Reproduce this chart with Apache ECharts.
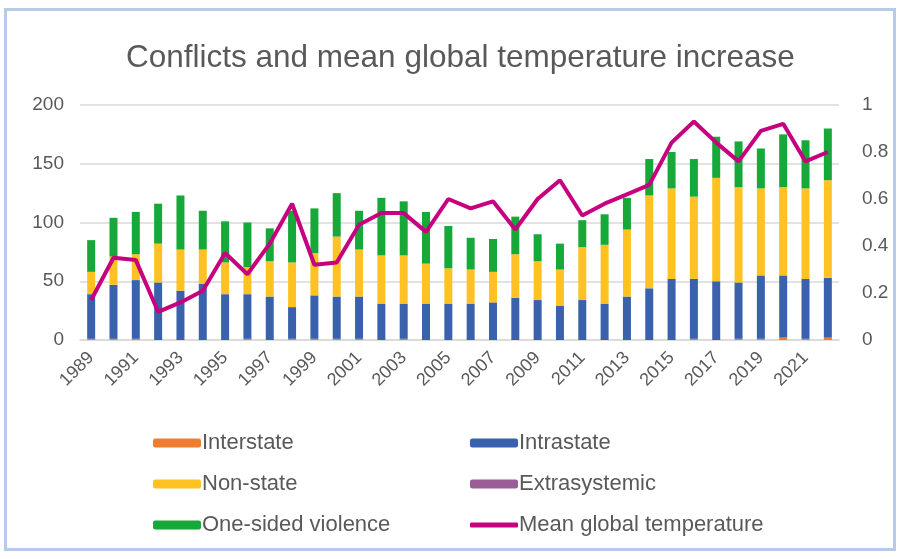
<!DOCTYPE html>
<html>
<head>
<meta charset="utf-8">
<script src="https://cdn.jsdelivr.net/npm/echarts@6/dist/echarts.min.js"></script>
<style>
html,body{margin:0;padding:0;background:#fff;width:897px;height:559px;overflow:hidden;}
#frame{position:absolute;left:4px;top:8px;width:892px;height:543px;border:3px solid #b7cbe9;box-sizing:border-box;}
#chart{position:absolute;left:0;top:0;width:897px;height:559px;}
</style>
</head>
<body>
<div id="frame"></div>
<div id="chart"></div>
<script>
const years = ['1989','1990','1991','1992','1993','1994','1995','1996','1997','1998','1999','2000','2001','2002','2003','2004','2005','2006','2007','2008','2009','2010','2011','2012','2013','2014','2015','2016','2017','2018','2019','2020','2021','2022'];
const interstate = [1,1,1,0,0,0,0,1,0,1,1,1,1,0,1,0,0,0,0,0,0,0,0,0,0,0,0,1,0,1,1,2,1,2];
const intrastate = [38,46,50,49,42,48,39,38,37,27,37,36,36,31,30,31,31,31,32,36,34,29,34,31,37,44,52,51,50,48,54,53,51,51];
const nonState = [19,24,22,33,35,29,27,23,30,38,36,51,40,41,41,34,30,29,26,37,33,31,45,50,57,79,77,70,88,81,74,75,77,83];
const extrasystemic = [0,0,0,0,0,0,0,0,0,0,0,0,0,0,0,0,0,0,0,0,0,0,0,0,0,0,0,0,0,0,0,0,0,0];
const oneSided = [27,33,36,34,46,33,35,38,28,44,38,37,33,49,46,44,36,27,28,32,23,22,23,26,27,31,31,32,35,39,34,45,41,44];
const temperature = [0.17,0.35,0.34,0.12,0.16,0.21,0.37,0.28,0.41,0.58,0.32,0.33,0.49,0.54,0.54,0.46,0.60,0.56,0.59,0.47,0.60,0.68,0.53,0.58,0.62,0.66,0.84,0.93,0.84,0.76,0.89,0.92,0.76,0.80];
const leftTicks = [0,50,100,150,200];
const rightTicks = [0,0.2,0.4,0.6,0.8,1];

const FONT = 'Liberation Sans';
const TXT = '#595959';
const LINE_COLOR = '#c6007e';
const chart = echarts.init(document.getElementById('chart'), null, {renderer:'canvas'});
const barCommon = {type:'bar', stack:'c', barWidth:8, yAxisIndex:0};
const legText = {fontFamily:FONT, fontSize:22, color:TXT, padding:[0,0,0,-4]};
chart.setOption({
  animation:false,
  title:{text:'Conflicts and mean global temperature increase', left:121, top:37,
    textStyle:{fontFamily:FONT, fontSize:31.5, fontWeight:'normal', color:TXT}},
  grid:{left:80, right:58, top:105, bottom:219},
  legend:[
    {orient:'vertical', left:148, top:427, itemGap:19, itemWidth:48, itemHeight:9, textStyle:legText,
     data:['Interstate','Non-state','One-sided violence']},
    {orient:'vertical', left:465, top:427, itemGap:19, itemWidth:48, itemHeight:9, textStyle:legText,
     data:['Intrastate','Extrasystemic']},
    {orient:'vertical', left:465, top:509, itemWidth:48, itemHeight:5, textStyle:legText,
     data:[{name:'Mean global temperature', icon:'roundRect', itemStyle:{color:LINE_COLOR}}]}
  ],
  xAxis:{type:'category', data:years,
    axisLine:{lineStyle:{color:'#d9d9d9', width:1.5}}, axisTick:{show:false},
    axisLabel:{interval:1, rotate:45, fontFamily:FONT, fontSize:18, color:TXT, margin:15}},
  yAxis:[
    {type:'value', min:0, max:200, interval:50,
     axisLabel:{fontFamily:FONT, fontSize:19, color:TXT, margin:16,
       formatter:v=>leftTicks.includes(v)?String(v):''},
     splitLine:{lineStyle:{color:'#d9d9d9', width:1.5}}, axisLine:{show:false}, axisTick:{show:false}},
    {type:'value', min:0, max:1, interval:0.2, position:'right',
     axisLabel:{fontFamily:FONT, fontSize:19, color:TXT, margin:23,
       formatter:v=>{const t=rightTicks.find(r=>Math.abs(r-v)<1e-6);return t===undefined?'':String(t);}},
     splitLine:{show:false}, axisLine:{show:false}, axisTick:{show:false}}
  ],
  series:[
    Object.assign({name:'Interstate', data:interstate, itemStyle:{color:'#ed7d31'}}, barCommon),
    Object.assign({name:'Intrastate', data:intrastate, itemStyle:{color:'#3a62ac'}}, barCommon),
    Object.assign({name:'Non-state', data:nonState, itemStyle:{color:'#ffc222'}}, barCommon),
    Object.assign({name:'Extrasystemic', data:extrasystemic, itemStyle:{color:'#9a5d98'}}, barCommon),
    Object.assign({name:'One-sided violence', data:oneSided, itemStyle:{color:'#17a83a'}}, barCommon),
    {name:'Mean global temperature', type:'line', yAxisIndex:1, data:temperature,
     symbol:'none', lineStyle:{color:LINE_COLOR, width:4}, itemStyle:{color:LINE_COLOR}, z:5}
  ]
});
</script>
</body>
</html>
